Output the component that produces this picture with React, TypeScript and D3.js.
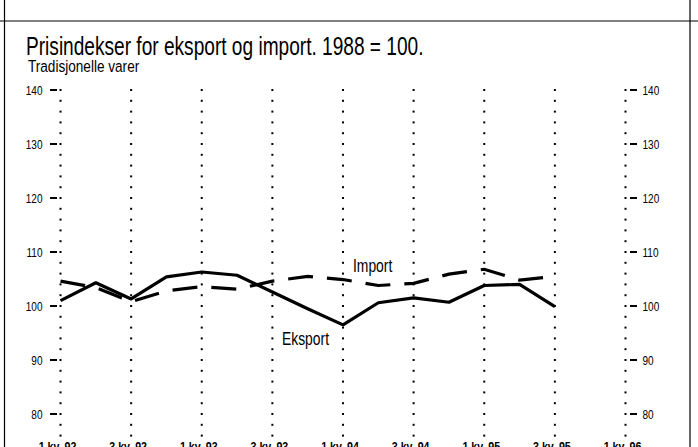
import React, { useEffect, useRef } from "react";
import * as d3 from "d3";

// quarters from 1.kv. 92 (index 0) to 1.kv. 96 (index 16)
const quarterLabels = [
  "1.kv. 92", "3.kv. 92", "1.kv. 93", "3.kv. 93", "1.kv. 94",
  "3.kv. 94", "1.kv. 95", "3.kv. 95", "1.kv. 96",
];
const yTicks = [80, 90, 100, 110, 120, 130, 140];

// Eksport (solid) and Import (dashed), one value per quarter, 1.kv. 92 - 3.kv. 95
const eksport = [101.0, 104.3, 101.3, 105.4, 106.3, 105.7, 102.6, 99.5, 96.5, 100.6, 101.5, 100.7, 103.8, 104.0, 99.9];
const importIdx = [104.6, 103.4, 100.8, 102.8, 103.6, 103.1, 104.6, 105.5, 104.9, 103.8, 104.2, 105.9, 106.8, 104.8, 105.5];

const W = 698;
const H = 447;
const font = "'Liberation Sans', Arial, sans-serif";
const SX = 0.77; // the original uses a condensed face

type Sel = d3.Selection<SVGSVGElement | null, unknown, null, undefined>;

// condensed text helper
const addText = (
  svg: Sel,
  x: number,
  y: number,
  s: string,
  size: number,
  anchor = "start",
  weight = 400,
  sx = SX
) =>
  svg
    .append("text")
    .attr("transform", `translate(${x},${y}) scale(${sx},1)`)
    .attr("text-anchor", anchor)
    .attr("font-family", font)
    .attr("font-size", size)
    .attr("font-weight", weight)
    .attr("fill", "#000")
    .text(s);

export default function App() {
  const ref = useRef<SVGSVGElement>(null);

  useEffect(() => {
    const svg = d3.select(ref.current) as Sel;
    svg.selectAll("*").remove();

    const x = d3.scaleLinear().domain([0, 16]).range([60.5, 625.5]);
    const y = d3.scaleLinear().domain([80, 140]).range([414, 90]);

    // frame
    svg.append("line").attr("x1", 0).attr("x2", W).attr("y1", 21).attr("y2", 21)
      .attr("stroke", "#000").attr("stroke-width", 1.2);
    svg.append("line").attr("x1", 4.5).attr("x2", 4.5).attr("y1", 0).attr("y2", H)
      .attr("stroke", "#000").attr("stroke-width", 1.2);
    svg.append("line").attr("x1", 690).attr("x2", 690).attr("y1", 0).attr("y2", H)
      .attr("stroke", "#000").attr("stroke-width", 1.2);

    // titles
    addText(svg, 26, 55, "Prisindekser for eksport og import. 1988 = 100.", 26, "start", 400, 0.735);
    addText(svg, 28, 72, "Tradisjonelle varer", 17, "start", 400, 0.8);

    // dotted verticals at every second quarter
    const dotVals = d3.range(140, 75, -2);
    quarterLabels.forEach((lab, i) => {
      const qx = x(i * 2);
      svg.append("g").selectAll("rect").data(dotVals).join("rect")
        .attr("x", qx - 1).attr("y", (d) => y(d) - 1)
        .attr("width", 2).attr("height", 2).attr("fill", "#000");
      addText(svg, qx - 3, 451, lab, 13, "middle", 700, 0.82);
    });

    // y ticks, both sides
    const left = x(0);
    const right = x(16);
    yTicks.forEach((t) => {
      svg.append("line").attr("x1", left - 10.5).attr("x2", left - 3.5)
        .attr("y1", y(t)).attr("y2", y(t)).attr("stroke", "#000").attr("stroke-width", 2);
      addText(svg, left - 18, y(t) + 4.5, String(t), 13, "end");
      svg.append("line").attr("x1", right + 4.5).attr("x2", right + 11.5)
        .attr("y1", y(t)).attr("y2", y(t)).attr("stroke", "#000").attr("stroke-width", 2);
      addText(svg, right + 17, y(t) + 4.5, String(t), 13, "start");
    });

    const line = d3.line<number>().x((_, i) => x(i)).y((d) => y(d));

    svg.append("path").attr("d", line(importIdx)).attr("fill", "none")
      .attr("stroke", "#000").attr("stroke-width", 3.2)
      .attr("stroke-dasharray", "25 14");
    svg.append("path").attr("d", line(eksport)).attr("fill", "none")
      .attr("stroke", "#000").attr("stroke-width", 3.2).attr("stroke-linejoin", "round");

    addText(svg, 353, 272, "Import", 19, "start", 400, 0.73);
    addText(svg, 282, 345, "Eksport", 19, "start", 400, 0.73);
  }, []);

  return (
    <svg
      ref={ref}
      width={W}
      height={H}
      style={{ position: "absolute", left: 0, top: 0, background: "#fff" }}
    />
  );
}
